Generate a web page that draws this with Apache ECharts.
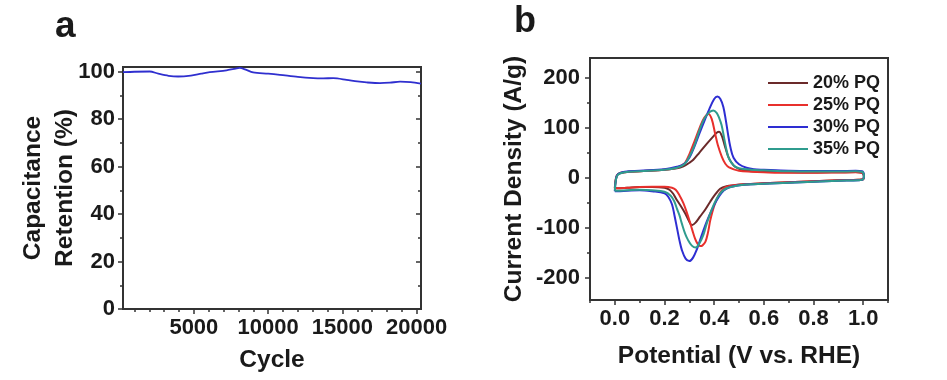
<!DOCTYPE html>
<html>
<head>
<meta charset="utf-8">
<script src="https://cdn.jsdelivr.net/npm/echarts@6/dist/echarts.min.js"></script>
<style>
html,body{margin:0;padding:0;background:#fff;}
#chart{width:947px;height:380px;}
</style>
</head>
<body>
<div id="chart"></div>
<script>
// ---- Panel a: capacitance retention ----
const retentionCycle = [230, 1000, 2030, 2600, 3300, 3940, 4800, 5500, 6070, 7200, 7700, 8090, 8450, 8990, 10000, 10790, 12000, 13030, 13700, 14380, 15280, 16000, 16630, 17530, 18200, 18880, 19600, 20290];
const retentionValue = [99.8, 100, 100.1, 99.2, 98.3, 98.0, 98.4, 99.2, 99.8, 100.6, 101.2, 101.6, 101.0, 99.7, 99.2, 98.7, 97.8, 97.3, 97.2, 97.3, 96.6, 95.9, 95.5, 95.2, 95.4, 95.8, 95.6, 95.0];
const cycleTicks = [5000, 10000, 15000, 20000];
const cycleMinorTicks = [1000, 2000, 3000, 4000, 6000, 7000, 8000, 9000, 11000, 12000, 13000, 14000, 16000, 17000, 18000, 19000];
const retentionTicks = [0, 20, 40, 60, 80, 100];
const retentionMinorTicks = [10, 30, 50, 70, 90];

// ---- Panel b: cyclic voltammograms [potential V, current A/g] ----
const seriesNames = ['20% PQ', '25% PQ', '30% PQ', '35% PQ'];
const cv20 = [[0,-21],[0.004,-3],[0.012,7],[0.04,11],[0.1,13],[0.2,16],[0.25,19],[0.276,23],[0.3,30],[0.316,36],[0.34,50],[0.37,68],[0.395,82],[0.41,90],[0.42,92],[0.43,85],[0.437,74],[0.447,57],[0.457,42],[0.47,30],[0.484,22],[0.51,16],[0.55,13],[0.6,12],[0.7,11],[0.8,10.5],[0.9,11],[0.97,11.5],[0.995,10],[1.003,3],[1.0,-3],[0.98,-4],[0.9,-5],[0.8,-7],[0.7,-9],[0.6,-11],[0.52,-13],[0.48,-15],[0.45,-17],[0.424,-22],[0.405,-33],[0.384,-48],[0.365,-63],[0.343,-78],[0.325,-90],[0.31,-95],[0.298,-86],[0.283,-71],[0.265,-56],[0.249,-44],[0.235,-32],[0.22,-24],[0.2,-20],[0.15,-18.5],[0.1,-18.5],[0.05,-20],[0.01,-21],[0,-21]];
const cv25 = [[0,-21],[0.004,-3],[0.012,7],[0.04,11],[0.1,13],[0.2,16],[0.25,20],[0.27,25],[0.283,30],[0.3,47],[0.32,72],[0.343,102],[0.36,120],[0.377,128],[0.39,118],[0.404,88],[0.415,65],[0.431,42],[0.445,28],[0.46,21],[0.5,14],[0.55,12],[0.6,11],[0.7,10],[0.8,10],[0.9,10.5],[0.97,11],[0.995,10],[1.003,3],[1.0,-3],[0.98,-4],[0.9,-5],[0.8,-7],[0.7,-9],[0.6,-11],[0.52,-13],[0.48,-15],[0.45,-18],[0.437,-22],[0.42,-33],[0.404,-51],[0.393,-68],[0.384,-86],[0.375,-110],[0.365,-128],[0.352,-136],[0.343,-137],[0.333,-132],[0.323,-122],[0.312,-105],[0.303,-90],[0.29,-70],[0.276,-51],[0.26,-35],[0.245,-24],[0.23,-20],[0.2,-18],[0.15,-18],[0.1,-18.5],[0.05,-20],[0.01,-21],[0,-21]];
const cv30 = [[0,-27],[0.004,-5],[0.012,7],[0.04,12],[0.1,14],[0.2,17],[0.25,22],[0.28,28],[0.3,40],[0.32,62],[0.34,88],[0.36,113],[0.38,137],[0.4,158],[0.413,163],[0.425,158],[0.437,142],[0.447,115],[0.455,90],[0.465,62],[0.478,40],[0.5,27],[0.53,20],[0.56,17],[0.6,16],[0.7,14],[0.8,13.5],[0.9,13.5],[0.97,14],[0.995,13],[1.003,5],[1.0,-3],[0.98,-5],[0.9,-6],[0.8,-8],[0.7,-10],[0.6,-12],[0.52,-14],[0.47,-18],[0.45,-22],[0.43,-30],[0.41,-45],[0.39,-65],[0.37,-88],[0.35,-115],[0.33,-144],[0.315,-160],[0.3,-167],[0.285,-162],[0.27,-145],[0.26,-125],[0.25,-100],[0.24,-75],[0.23,-53],[0.215,-38],[0.2,-31],[0.15,-27],[0.1,-25],[0.05,-26],[0.01,-27],[0,-27]];
const cv35 = [[0,-26],[0.004,-5],[0.012,6],[0.04,11],[0.1,13],[0.2,16],[0.25,20],[0.28,27],[0.3,42],[0.32,64],[0.34,94],[0.36,118],[0.38,131],[0.397,135],[0.41,130],[0.42,120],[0.43,105],[0.44,80],[0.45,55],[0.46,38],[0.48,24],[0.5,19],[0.55,16],[0.6,15],[0.7,13],[0.8,12.5],[0.9,12.5],[0.97,13],[0.995,12],[1.003,4],[1.0,-3],[0.98,-5],[0.9,-6],[0.8,-8],[0.7,-10],[0.6,-12],[0.52,-14],[0.48,-17],[0.45,-21],[0.43,-28],[0.41,-42],[0.39,-64],[0.37,-92],[0.357,-114],[0.34,-132],[0.325,-140],[0.31,-136],[0.295,-125],[0.283,-112],[0.27,-92],[0.26,-75],[0.25,-62],[0.24,-48],[0.225,-36],[0.2,-28],[0.15,-25],[0.1,-24],[0.05,-25],[0.01,-26],[0,-26]];
const potentialTicks = [0, 0.2, 0.4, 0.6, 0.8, 1.0];
const potentialMinorTicks = [-0.1, 0.1, 0.3, 0.5, 0.7, 0.9, 1.1];
const currentTicks = [-200, -100, 0, 100, 200];
const currentMinorTicks = [-150, -50, 50, 150];

const FONT = 'Liberation Sans, Arial, sans-serif';
const INK = '#1a1a1a';
const AXC = '#333';
const cvColors = ['#6b2a2a', '#e8302c', '#2e2ed2', '#2f9c8e'];

const labelStyle = {fontFamily: FONT, fontWeight: 'bold', fontSize: 22, color: INK};
const nameStyle = {fontFamily: FONT, fontWeight: 'bold', fontSize: 24.5, color: INK};

function mainAxis(o) {
  return Object.assign({
    type: 'value', splitLine: {show: false},
    axisLine: {show: true, onZero: false, lineStyle: {color: AXC, width: 2}},
    axisTick: {show: true, length: 5, lineStyle: {color: AXC, width: 1.5}},
    axisLabel: Object.assign({show: true}, labelStyle),
    nameTextStyle: nameStyle
  }, o);
}
function tickAxis(o, ticks, inside, len) {
  return Object.assign({
    type: 'value', splitLine: {show: false},
    axisLine: {show: false, onZero: false},
    axisLabel: {show: false},
    axisTick: {show: true, inside: inside, length: len, customValues: ticks, lineStyle: {color: AXC, width: 1.5}}
  }, o);
}

const chart = echarts.init(document.getElementById('chart'), null, {renderer: 'canvas'});
const xA = {min: 230, max: 20290};
const yA = {min: 0, max: 102};
const xB = {min: -0.1, max: 1.1};
const yB = {min: -245, max: 240};

chart.setOption({
  animation: false,
  backgroundColor: '#fff',
  graphic: [
    {type: 'text', left: 55, top: 8, style: {text: 'a', font: 'bold 37px ' + FONT, fill: INK}},
    {type: 'text', left: 514, top: 4, style: {text: 'b', font: 'bold 36px ' + FONT, fill: INK}}
  ],
  grid: [
    {left: 123, top: 67, width: 298, height: 242, show: true, borderColor: AXC, borderWidth: 2},
    {left: 590, top: 58, width: 298, height: 242, show: true, borderColor: AXC, borderWidth: 2}
  ],
  legend: {
    data: seriesNames,
    orient: 'vertical', left: 763, top: 69, itemWidth: 40, itemHeight: 18, itemGap: 4,
    icon: 'path://M0,8 L40,8 L40,10 L0,10 Z',
    textStyle: {fontFamily: FONT, fontWeight: 'bold', fontSize: 18, color: INK}
  },
  xAxis: [
    mainAxis(Object.assign({gridIndex: 0, position: 'bottom', name: 'Cycle', nameLocation: 'middle', nameGap: 39,
      axisTick: {show: true, length: 5, customValues: cycleTicks, lineStyle: {color: AXC, width: 1.5}},
      axisLabel: Object.assign({customValues: cycleTicks, margin: 8, formatter: v => String(Math.round(v))}, labelStyle)}, xA)),
    tickAxis(Object.assign({gridIndex: 0, position: 'bottom'}, xA), cycleMinorTicks, false, 3),
    mainAxis(Object.assign({gridIndex: 1, position: 'bottom', name: 'Potential (V vs. RHE)', nameLocation: 'middle', nameGap: 44,
      axisTick: {show: true, length: 5, customValues: potentialTicks, lineStyle: {color: AXC, width: 1.5}},
      axisLabel: Object.assign({customValues: potentialTicks, margin: 8, formatter: v => Number(v).toFixed(1)}, labelStyle)}, xB)),
    tickAxis(Object.assign({gridIndex: 1, position: 'bottom'}, xB), potentialMinorTicks, false, 3)
  ],
  yAxis: [
    mainAxis(Object.assign({gridIndex: 0, position: 'left', name: 'Capacitance\nRetention (%)', nameLocation: 'middle', nameGap: 42, nameRotate: 90,
      nameMoveOverlap: false,
      nameTextStyle: Object.assign({lineHeight: 32}, nameStyle),
      axisTick: {show: true, length: 5, customValues: retentionTicks, lineStyle: {color: AXC, width: 1.5}},
      axisLabel: Object.assign({customValues: retentionTicks, margin: 8}, labelStyle)}, yA)),
    tickAxis(Object.assign({gridIndex: 0, position: 'left'}, yA), retentionMinorTicks, false, 3),
    tickAxis(Object.assign({gridIndex: 0, position: 'right'}, yA), retentionTicks, true, 5),
    tickAxis(Object.assign({gridIndex: 0, position: 'right'}, yA), retentionMinorTicks, true, 3),
    mainAxis(Object.assign({gridIndex: 1, position: 'left', name: 'Current Density (A/g)', nameLocation: 'middle', nameGap: 62, nameRotate: 90,
      nameTextStyle: Object.assign({lineHeight: 28}, nameStyle),
      axisTick: {show: true, length: 5, customValues: currentTicks, lineStyle: {color: AXC, width: 1.5}},
      axisLabel: Object.assign({customValues: currentTicks, margin: 10}, labelStyle)}, yB)),
    tickAxis(Object.assign({gridIndex: 1, position: 'left'}, yB), currentMinorTicks, false, 3)
  ],
  series: [
    {type: 'line', xAxisIndex: 0, yAxisIndex: 0, symbol: 'none', smooth: 0.3,
      data: retentionCycle.map((c, i) => [c, retentionValue[i]]),
      lineStyle: {color: '#2f2fcf', width: 1.8}},
    ...[cv20, cv25, cv30, cv35].map((d, i) => ({
      name: seriesNames[i], type: 'line', xAxisIndex: 2, yAxisIndex: 4, symbol: 'none', smooth: 0.35,
      data: d, itemStyle: {color: cvColors[i]},
      lineStyle: {color: cvColors[i], width: 2}
    }))
  ]
});
</script>
</body>
</html>
